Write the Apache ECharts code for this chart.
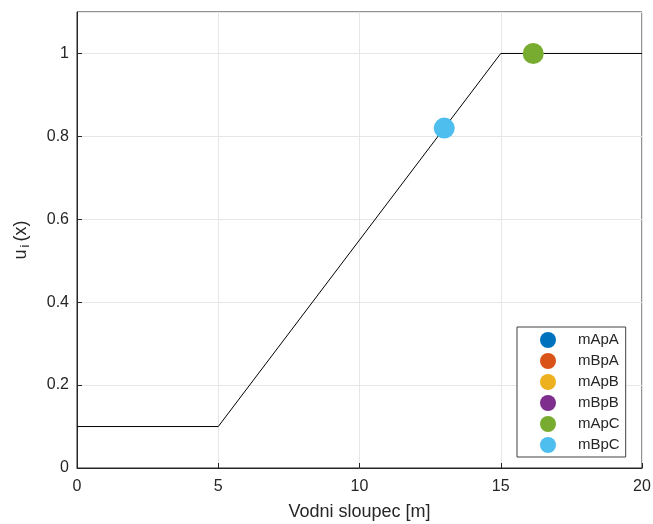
<!DOCTYPE html>
<html><head><meta charset="utf-8">
<script src="https://cdn.jsdelivr.net/npm/echarts@6/dist/echarts.min.js"></script>
<style>html,body{margin:0;padding:0;background:#fff}#c{width:653px;height:524px}</style>
</head><body><div id="c"></div>
<script>
var curveX = [0, 5, 15, 20];
var curveY = [0.1, 0.1, 1, 1];
var seriesNames = ['mApA', 'mBpA', 'mApB', 'mBpB', 'mApC', 'mBpC'];
var seriesColors = ['#0072BD', '#D95319', '#EDB120', '#7E2F8E', '#77AC30', '#4DBEEE'];
var pointX = [[], [], [], [], [16.15], [13.0]];
var pointY = [[], [], [], [], [1.0], [0.82]];
var xTicks = [0, 5, 10, 15, 20];
var yTicks = [0, 0.2, 0.4, 0.6, 0.8, 1];

var font = '"Liberation Sans", Arial, sans-serif';
var txt = '#262626';
var chart = echarts.init(document.getElementById('c'));
var series = [{
  type: 'line', data: curveX.map(function (x, i) { return [x, curveY[i]]; }),
  showSymbol: false, symbol: 'none', lineStyle: { color: '#000', width: 1 }, silent: true, z: 2
}];
seriesNames.forEach(function (n, k) {
  series.push({
    type: 'scatter', name: n, data: pointX[k].map(function (x, i) { return [x, pointY[k][i]]; }),
    symbol: 'circle', symbolSize: 21, itemStyle: { color: seriesColors[k], opacity: 1 }, z: 3
  });
});
function gridLine() { return { show: true, lineStyle: { color: '#e6e6e6', width: 1 } }; }
function axLine() { return { show: true, lineStyle: { color: '#262626' } }; }
function axTick() { return { show: true, inside: true, length: 5, lineStyle: { color: '#262626' } }; }
chart.setOption({
  animation: false,
  backgroundColor: '#fff',
  grid: { left: 77, right: 11, top: 12, bottom: 56, outerBoundsMode: 'none', containLabel: false,
    show: true, borderColor: '#262626', borderWidth: 1, backgroundColor: 'transparent' },
  xAxis: [{
    type: 'value', min: 0, max: 20, interval: 5, position: 'bottom',
    name: 'Vodni sloupec [m]', nameLocation: 'middle', nameGap: 35,
    nameTextStyle: { fontFamily: font, fontSize: 18, color: txt },
    axisLine: axLine(), axisTick: axTick(),
    axisLabel: { fontFamily: font, fontSize: 16, color: txt, margin: 11,
      formatter: function (v) { return xTicks.indexOf(v) >= 0 ? String(v) : ''; } },
    splitLine: gridLine()
  }],
  yAxis: [{
    type: 'value', min: 0, max: 1.1, interval: 0.2, position: 'left',
    name: '{a|u}{b|i}{a|(x)}', nameLocation: 'middle', nameGap: 45, nameRotate: 90,
    nameTextStyle: { fontFamily: font, color: txt,
      rich: { a: { fontFamily: font, fontSize: 18, color: txt, lineHeight: 22 },
              b: { fontFamily: font, fontSize: 13, color: txt, lineHeight: 22, padding: [9, 3, 0, 2] } } },
    axisLine: axLine(), axisTick: axTick(),
    axisLabel: { fontFamily: font, fontSize: 16, color: txt, margin: 8, showMaxLabel: false,
      formatter: function (v) { var r = Math.round(v * 10) / 10; return yTicks.indexOf(r) >= 0 ? String(r) : ''; } },
    splitLine: gridLine()
  }],
  legend: {
    data: seriesNames, orient: 'vertical', left: 517, top: 327,
    icon: 'circle', itemWidth: 16, itemHeight: 16, itemGap: 5,
    padding: [5, 6, 4, 23], backgroundColor: '#fff', borderColor: '#404040', borderWidth: 1,
    textStyle: { fontFamily: font, fontSize: 15, color: txt, padding: [0, 0, 0, 17] },
    selectedMode: false
  },
  series: series
});
</script></body></html>
